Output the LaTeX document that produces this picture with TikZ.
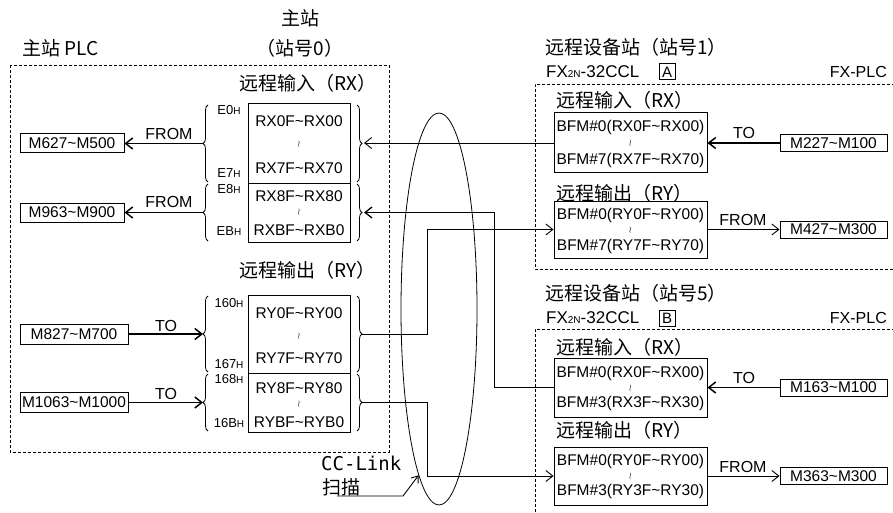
\documentclass[tikz,border=0pt]{standalone}
\usepackage{fontspec}
\setmainfont{Liberation Sans}
\newfontfamily\cjk{Noto Sans CJK SC}
\newfontfamily\ccmono{DejaVu Sans Mono}
\usepackage{tikz}
\usetikzlibrary{positioning,arrows.meta,calc,shapes.geometric,decorations.pathreplacing}
\newcommand\tld{\textasciitilde}
\newcommand\hsub[1]{{\fontsize{10}{10}\selectfont #1}}

\begin{document}
\begin{tikzpicture}[x=1pt, y=-1pt,
  zh/.style={font=\cjk\fontsize{19}{21}\selectfont, inner sep=0pt},
  tb/.style={font=\fontsize{15.5}{17}\selectfont, inner sep=0pt},
  lbl/.style={font=\fontsize{16}{17}\selectfont, inner sep=0pt},
  sub/.style={font=\fontsize{13}{14}\selectfont, inner sep=0pt},
  wv/.style={font=\fontsize{9}{9}\selectfont, inner sep=0pt},
  mbox/.style={draw, line width=1pt, font=\fontsize{15.5}{17}\selectfont,
    minimum height=17pt, inner sep=0pt},
  blk/.style={draw, line width=1pt, inner sep=0pt},
  tag/.style={draw, line width=1pt, minimum size=16pt, inner sep=0pt,
    font=\fontsize{15}{16}\selectfont},
  plcframe/.style={line width=0.7pt, dash pattern=on 3pt off 2pt},
  br/.style={decorate, decoration={brace, amplitude=5pt}, line width=0.8pt},
  ln/.style={line width=0.9pt},
  ar/.style={ln, -{Straight Barb[length=7pt,width=11pt]}},
  tk/.style={line width=1.5pt, -{Straight Barb[length=7pt,width=11pt]}}
]
\useasboundingbox (0,0) rectangle (893,513);

% master station
\draw[plcframe] (10,65) rectangle (389,452);
\node[zh, anchor=west] (mplc) at (22,48) {主站 PLC};
\node[zh] (mst) at (300,18) {主站};
\node[zh] (mno) at (300,48) {（站号0）};
\node[zh, anchor=west] (mrxt) at (239,83) {远程输入（RX）};
\node[zh, anchor=west] (mryt) at (239,270) {远程输出（RY）};

\node[blk, minimum width=102pt, minimum height=79pt] (rx1) at (299,143.5) {};
\node[blk, minimum width=102pt, minimum height=59pt] (rx2) at (299,212.5) {};
\node[blk, minimum width=102pt, minimum height=78pt] (ry1) at (299,334) {};
\node[blk, minimum width=102pt, minimum height=59pt] (ry2) at (299,402.5) {};
\foreach \t/\y [count=\i] in {RX0F\tld RX00/121, RX7F\tld RX70/168,
    RX8F\tld RX80/196, RXBF\tld RXB0/230, RY0F\tld RY00/313,
    RY7F\tld RY70/358, RY8F\tld RY80/388, RYBF\tld RYB0/422}
  \node[tb] (mt\i) at (299,\y) {\t};
\foreach \y [count=\i] in {144,212,336,404}
  \node[wv] (mw\i) at (299,\y) {$\wr$};

\foreach \t/\y [count=\i] in {E0/110, E7/173, E8/189, EB/231,
    160/303, 167/364, 168/379, 16B/423}
  \node[sub] (ad\i) at (229,\y) {\t\hsub{H}};

% braces
\draw[br] (208,182) -- (208,105);
\draw[br] (208,241) -- (208,184);
\draw[br] (208,372) -- (208,296);
\draw[br] (208,431) -- (208,374);
\draw[br] (357,105) -- (357,182);
\draw[br] (357,184) -- (357,241);
\draw[br] (357,296) -- (357,372);
\draw[br] (357,374) -- (357,431);
\coordinate (lb1) at (203,143.5);
\coordinate (lb2) at (203,212.5);
\coordinate (lb3) at (203,334);
\coordinate (lb4) at (203,402.5);
\coordinate (rb1) at (364,143);
\coordinate (rb2) at (364,212.5);
\coordinate (rb3) at (362,334);
\coordinate (rb4) at (362,402.5);

\node[mbox, minimum width=104pt, minimum height=19pt] (m1) at (72,143.5) {M627\tld M500};
\node[mbox, minimum width=104pt, minimum height=19pt] (m2) at (72,212.5) {M963\tld M900};
\node[mbox, minimum width=108pt, minimum height=20pt] (m3) at (74,334) {M827\tld M700};
\node[mbox, minimum width=108pt, minimum height=20pt] (m4) at (74,402.5) {M1063\tld M1000};

\draw[tk] (lb1) -- (m1.east);
\draw[tk] (lb2) -- (m2.east);
\draw[tk] (m3.east) -- (lb3);
\draw[tk] (m4.east) -- (lb4);
\node[lbl] (f1) at (169,134) {FROM};
\node[lbl] (f2) at (169,202) {FROM};
\node[lbl] (t1) at (166,326) {TO};
\node[lbl] (t2) at (166,394) {TO};

% remote station 1
\draw[plcframe] (900,84) -- (535,84) -- (535,269) -- (900,269);
\node[zh, anchor=west] (s1t) at (545,47) {远程设备站（站号1）};
\node[lbl, anchor=west, font=\fontsize{17}{18}\selectfont] (s1m) at (546,72) {FX\hsub{2N}-32CCL};
\node[tag] (tagA) at (667,72) {A};
\node[lbl, anchor=east] (s1p) at (887,72) {FX-PLC};
\node[zh, anchor=west] (s1rxt) at (556,100) {远程输入（RX）};
\node[zh, anchor=west] (s1ryt) at (556,193) {远程输出（RY）};
\node[blk, minimum width=153pt, minimum height=60pt] (s1rx) at (630.5,143) {};
\node[blk, minimum width=153pt, minimum height=57pt] (s1ry) at (630.5,229.5) {};
\node[tb] (s1a) at (630.5,127) {BFM\#0(RX0F\tld RX00)};
\node[wv] (s1b) at (630.5,143) {$\wr$};
\node[tb] (s1c) at (630.5,160) {BFM\#7(RX7F\tld RX70)};
\node[tb] (s1d) at (630.5,215) {BFM\#0(RY0F\tld RY00)};
\node[wv] (s1e) at (630.5,230) {$\wr$};
\node[tb] (s1f) at (630.5,246) {BFM\#7(RY7F\tld RY70)};
\node[mbox, minimum width=107pt] (mA1) at (833.5,143) {M227\tld M100};
\node[mbox, minimum width=107pt] (mA2) at (833.5,229.5) {M427\tld M300};
\draw[tk] (mA1.west) -- (s1rx.east);
\draw[ar] (s1ry.east) -- (mA2.west);
\node[lbl] (t3) at (744,133) {TO};
\node[lbl] (f3) at (743,220) {FROM};

% remote station 5
\draw[plcframe] (900,329) -- (535,329) -- (535,520);
\node[zh, anchor=west] (s5t) at (545,293) {远程设备站（站号5）};
\node[lbl, anchor=west, font=\fontsize{17}{18}\selectfont] (s5m) at (546,318) {FX\hsub{2N}-32CCL};
\node[tag] (tagB) at (667,318) {B};
\node[lbl, anchor=east] (s5p) at (887,318) {FX-PLC};
\node[zh, anchor=west] (s5rxt) at (556,347) {远程输入（RX）};
\node[zh, anchor=west] (s5ryt) at (556,430) {远程输出（RY）};
\node[blk, minimum width=153pt, minimum height=59pt] (s5rx) at (630.5,387.5) {};
\node[blk, minimum width=153pt, minimum height=58pt] (s5ry) at (630.5,476) {};
\node[tb] (s5a) at (630.5,373) {BFM\#0(RX0F\tld RX00)};
\node[wv] (s5b) at (630.5,388) {$\wr$};
\node[tb] (s5c) at (630.5,403) {BFM\#3(RX3F\tld RX30)};
\node[tb] (s5d) at (630.5,461) {BFM\#0(RY0F\tld RY00)};
\node[wv] (s5e) at (630.5,476) {$\wr$};
\node[tb] (s5f) at (630.5,491) {BFM\#3(RY3F\tld RY30)};
\node[mbox, minimum width=107pt] (mB1) at (833.5,387.5) {M163\tld M100};
\node[mbox, minimum width=107pt] (mB2) at (833.5,476) {M363\tld M300};
\draw[tk] (mB1.west) -- (s5rx.east);
\draw[ar] (s5ry.east) -- (mB2.west);
\node[lbl] (t4) at (744,378) {TO};
\node[lbl] (f4) at (743,467) {FROM};

% CC-Link links
\draw[ar] (s1rx.west) -- (rb1);
\draw[ar, line width=1.3pt] (s5rx.west) -- ++(-59,0) |- (rb2);
\draw[ar] (rb3) -- ++(65,0) |- (s1ry.west);
\draw[ar] (rb4) -- ++(65,0) |- (s5ry.west);

\node[draw, ellipse, line width=0.8pt, minimum width=76pt, minimum height=392pt,
  inner sep=0pt] (scan) at (439,309) {};
\node[anchor=west, inner sep=0pt, font=\ccmono\fontsize{19}{20}\selectfont] (cc1) at (321,463) {CC-Link};
\node[zh, anchor=west] (cc2) at (322,487) {扫描};
\coordinate (ccfoot) at (337,496);
\draw[ln, -{Straight Barb[length=6pt,width=9pt]}] (ccfoot) -- (403,496) -- (scan.263);
\end{tikzpicture}
\end{document}
